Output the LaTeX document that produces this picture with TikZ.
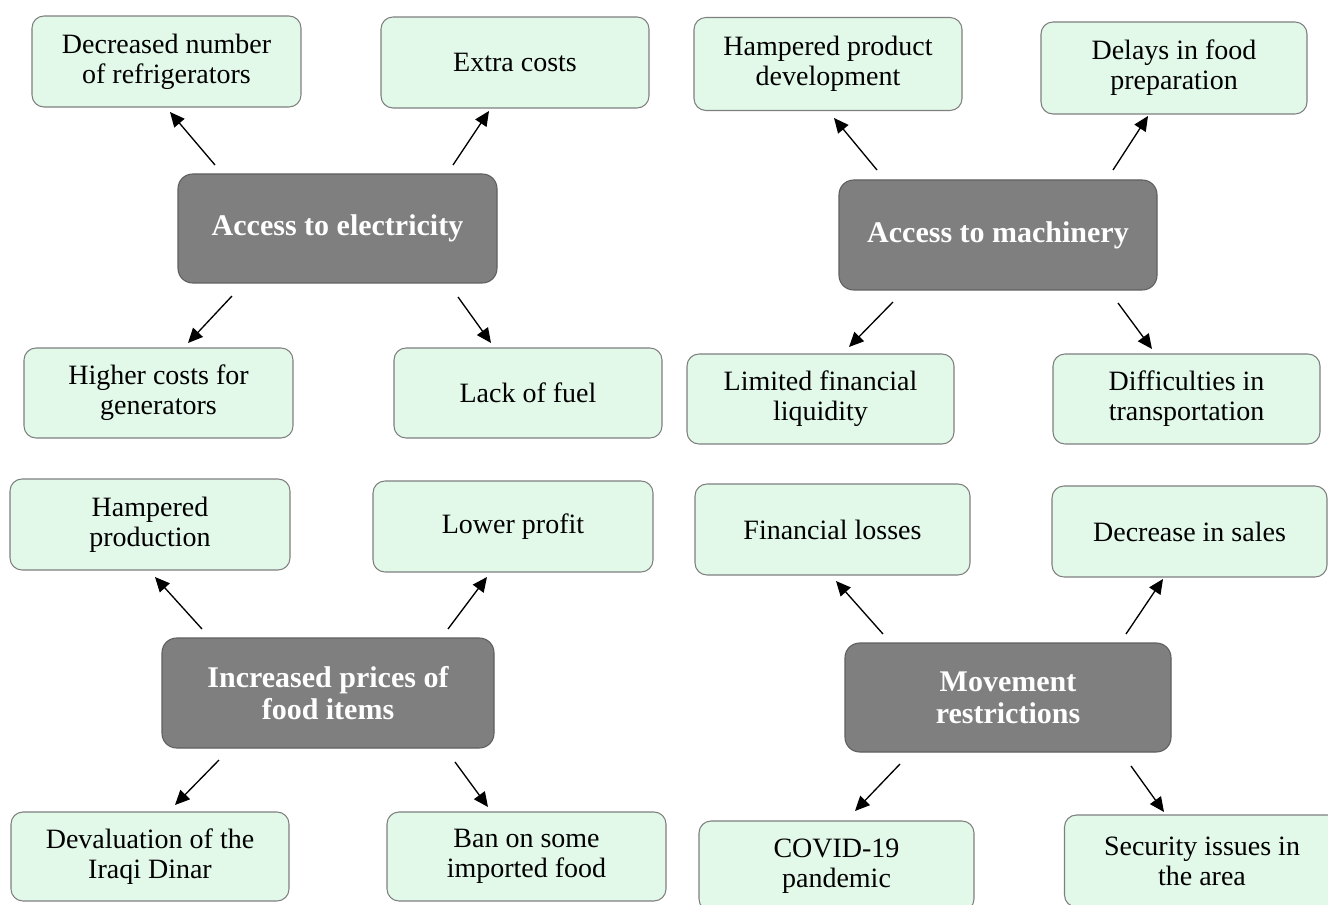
\documentclass[tikz,border=0pt]{standalone}
\usepackage{fontspec}
\setmainfont{Liberation Serif}
\usetikzlibrary{arrows.meta}
\definecolor{leaffill}{HTML}{E2F9EA}
\definecolor{leafdraw}{HTML}{7F7F7F}
\definecolor{corefill}{HTML}{7F7F7F}
\definecolor{coredraw}{HTML}{5F5F5F}
\tikzset{
  leaf/.style={draw=leafdraw, fill=leaffill, line width=0.8pt, rounded corners=9pt,
    align=center, inner sep=0pt, text=black,
    font=\fontsize{21}{22.5}\selectfont},
  core/.style={draw=coredraw, fill=corefill, line width=0.8pt, rounded corners=11pt,
    align=center, inner sep=0pt, text=white,
    font=\fontsize{22.5}{24}\selectfont\bfseries},
  conn/.style={line width=1pt, -{Triangle[length=11pt,width=10pt]}}
}
\newcommand{\bx}[7]{% style, name, cx, cy, w, h, text
  \node[#1, minimum width=#5*0.75pt, minimum height=#6*0.75pt] (#2) at (#3,#4) {#7};}
\begin{document}
\begin{tikzpicture}[x=0.75pt,y=-0.75pt]
\clip (0,0) rectangle (1328,905);
\fill[white] (0,0) rectangle (1328,905);
% ---- Access to electricity
\bx{leaf}{r1}{166.5}{61.5}{269}{91}{Decreased number\\of refrigerators}
\bx{leaf}{r2}{515}{62.5}{268}{91}{Extra costs}
\bx{core}{c1}{337.5}{228.5}{319}{109}{Access to electricity}
\bx{leaf}{r3}{158.5}{393}{269}{90}{Higher costs for\\generators}
\bx{leaf}{r4}{528}{393}{268}{90}{Lack of fuel}
% ---- Access to machinery
\bx{leaf}{s1}{828}{64}{268}{93}{Hampered product\\development}
\bx{leaf}{s2}{1174}{68}{266}{92}{Delays in food\\preparation}
\bx{core}{c2}{998}{235}{318}{110}{Access to machinery}
\bx{leaf}{s3}{820.5}{399}{267}{90}{Limited financial\\liquidity}
\bx{leaf}{s4}{1186.5}{399}{267}{90}{Difficulties in\\transportation}
% ---- Increased prices
\bx{leaf}{t1}{150}{524.5}{280}{91}{Hampered\\production}
\bx{leaf}{t2}{513}{526.5}{280}{91}{Lower profit}
\bx{core}{c3}{328}{693}{332}{110}{Increased prices of\\food items}
\bx{leaf}{t3}{150}{856.5}{278}{89}{Devaluation of the\\Iraqi Dinar}
\bx{leaf}{t4}{526.5}{856.5}{279}{89}{Ban on some\\imported food}
% ---- Movement restrictions
\bx{leaf}{u1}{832.5}{529.5}{275}{91}{Financial losses}
\bx{leaf}{u2}{1189.5}{531.5}{275}{91}{Decrease in sales}
\bx{core}{c4}{1008}{697.5}{326}{109}{Movement\\restrictions}
\bx{leaf}{u3}{836.5}{866}{275}{90}{COVID-19\\pandemic}
\bx{leaf}{u4}{1202}{861}{275}{92}{Security issues in\\the area}
% ---- connector end points
\coordinate (a1s) at (215,165);  \coordinate (a1e) at (170,112);
\coordinate (a2s) at (453,165);  \coordinate (a2e) at (489,111);
\coordinate (a3s) at (232,296);  \coordinate (a3e) at (188,343);
\coordinate (a4s) at (458,297);  \coordinate (a4e) at (491,343);
\coordinate (b1s) at (877,170);  \coordinate (b1e) at (834,118);
\coordinate (b2s) at (1113,170); \coordinate (b2e) at (1148,116);
\coordinate (b3s) at (893,302);  \coordinate (b3e) at (849,347);
\coordinate (b4s) at (1118,303); \coordinate (b4e) at (1152,349);
\coordinate (d1s) at (202,629);  \coordinate (d1e) at (155,577);
\coordinate (d2s) at (448,629);  \coordinate (d2e) at (487,577);
\coordinate (d3s) at (219,760);  \coordinate (d3e) at (175,805);
\coordinate (d4s) at (455,762);  \coordinate (d4e) at (488,807);
\coordinate (e1s) at (883,634);  \coordinate (e1e) at (836,581);
\coordinate (e2s) at (1126,634); \coordinate (e2e) at (1163,579);
\coordinate (e3s) at (900,764);  \coordinate (e3e) at (855,811);
\coordinate (e4s) at (1131,766); \coordinate (e4e) at (1164,812);
\foreach \p in {a,b,d,e}{
  \foreach \i in {1,2,3,4}{
    \draw[conn] (\p\i s) -- (\p\i e);
  }
}
\end{tikzpicture}
\end{document}
